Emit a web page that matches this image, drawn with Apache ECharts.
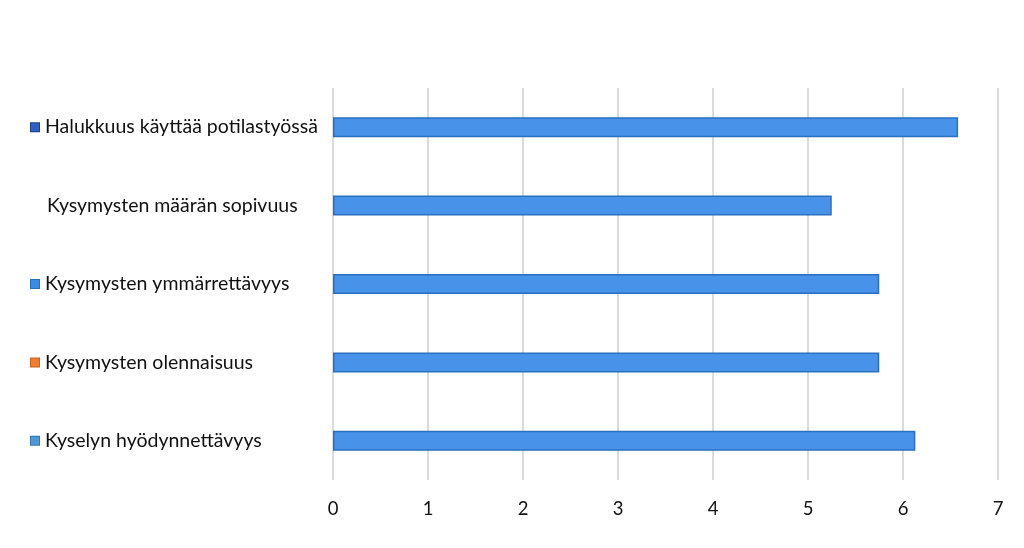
<!DOCTYPE html>
<html>
<head>
<meta charset="utf-8">
<script src="https://cdn.jsdelivr.net/npm/echarts@6/dist/echarts.min.js"></script>
<style>
  html, body { margin: 0; padding: 0; background: #fff; }
  #chart { width: 1024px; height: 548px; }
</style>
</head>
<body>
<div id="chart"></div>
<script>
  // Category labels, top to bottom
  const categories = [
    'Halukkuus käyttää potilastyössä',
    'Kysymysten määrän sopivuus',
    'Kysymysten ymmärrettävyys',
    'Kysymysten olennaisuus',
    'Kyselyn hyödynnettävyys'
  ];
  const values = [6.58, 5.25, 5.75, 5.75, 6.13];
  // little square in front of each label (null = none)
  const markerColors = ['#2F5FC4', null, '#3A8DE3', '#ED7D31', '#4D9AD6'];
  const markerBorders = ['#1F3F8A', null, '#2A6FB8', '#C9621C', '#3478AE'];
  const xTicks = [0, 1, 2, 3, 4, 5, 6, 7];

  const FONT = 'Lato, "Open Sans", sans-serif';

  const rich = {
    t: { fontSize: 19.5, fontFamily: FONT, color: '#111' },
    s: { width: 6, height: 8 }
  };
  markerColors.forEach((c, i) => {
    rich['m' + i] = c
      ? { width: 8, height: 8, backgroundColor: c, borderColor: markerBorders[i], borderWidth: 1 }
      : { width: 10, height: 8 };
  });

  const chart = echarts.init(document.getElementById('chart'));
  chart.setOption({
    animation: false,
    grid: { left: 333, right: 26, top: 88, bottom: 68, containLabel: false },
    xAxis: {
      type: 'value',
      min: xTicks[0],
      max: xTicks[xTicks.length - 1],
      interval: 1,
      axisLine: { show: false },
      axisTick: { show: false },
      splitLine: { show: true, lineStyle: { color: '#CFCFCF', width: 1.5 } },
      axisLabel: { fontSize: 18.5, fontFamily: FONT, color: '#111', margin: 20 }
    },
    yAxis: {
      type: 'category',
      data: categories,
      inverse: true,
      axisLine: { show: false },
      axisTick: { show: false },
      axisLabel: {
        align: 'left',
        margin: 302,
        formatter: (v, i) => '{m' + i + '|}{s|}{t|' + v + '}',
        rich: rich
      }
    },
    series: [{
      type: 'bar',
      data: values,
      barWidth: 20,
      itemStyle: { color: '#4892EA', borderColor: '#2A6FC0', borderWidth: 1.5 }
    }]
  });
</script>
</body>
</html>
